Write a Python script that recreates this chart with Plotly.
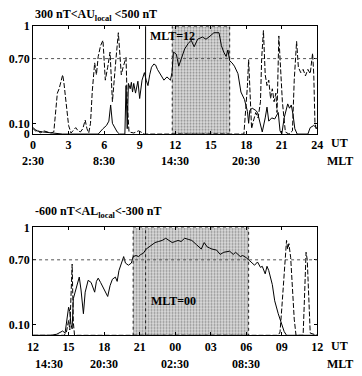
import plotly.graph_objects as go

# ---------------- data ----------------
# top panel: 300 nT < AU_local < 500 nT   (UT hours 0..24)
top_solid_ut = [0.0,0.3,0.8,1.5,2.5,4.0,5.5,5.9,6.2,6.4,6.55,6.7,6.9,7.1,7.3,7.75,7.85,7.95,8.05,8.2,8.3,8.4,8.5,8.65,8.85,9.0,9.2,9.4,9.55,9.7,9.85,10.0,10.2,10.35,10.5,10.8,11.05,11.3,11.6,11.73,11.85,12.0,12.1,12.3,12.5,12.8,13.1,13.35,13.6,13.9,14.3,14.6,14.85,15.27,15.7,15.9,16.1,16.3,16.45,16.6,16.8,17.0,17.3,17.55,17.85,18.1,18.2,18.3,18.5,18.8,18.95,19.1,19.35,19.6,19.75,19.9,20.15,20.4,20.7,20.85,21.0,21.2,21.5,21.65,21.8,21.95,22.1,22.3,23.2,23.4,23.7,24.0]
top_solid = [0.06,0.03,0.02,0.01,0.0,0.0,0.0,0.05,0.08,0.12,0.27,0.1,0.06,0.02,0.0,0.0,0.45,0.05,0.47,0.42,0.48,0.39,0.47,0.38,0.49,0.33,0.5,0.57,0.5,0.45,0.55,0.62,0.65,0.64,0.6,0.55,0.5,0.53,0.5,0.57,0.76,0.75,0.74,0.63,0.7,0.79,0.84,0.87,0.81,0.88,0.9,0.88,0.9,0.94,0.94,0.82,0.76,0.72,0.78,0.68,0.66,0.63,0.56,0.39,0.32,0.21,0.1,0.22,0.24,0.22,0.2,0.12,0.02,0.15,0.25,0.12,0.15,0.14,0.2,0.03,0.0,0.15,0.28,0.24,0.27,0.18,0.05,0.0,0.0,0.06,0.08,0.05]

top_dashed_ut = [0.0,0.2,0.4,0.6,0.9,1.2,1.5,1.75,1.9,2.05,2.2,2.35,2.5,2.6,2.8,3.0,3.2,3.4,3.6,3.8,4.0,4.2,4.4,4.55,4.7,4.85,5.0,5.2,5.35,5.5,5.7,5.9,6.1,6.3,6.5,6.7,6.85,7.0,7.2,7.35,7.45,7.6,7.85,7.95,8.1,8.5,8.9,9.1,9.4,17.8,17.95,18.1,18.2,18.3,18.45,18.6,18.8,19.0,19.2,19.3,19.45,19.6,19.75,19.9,20.05,20.2,20.35,20.5,20.6,20.75,20.9,21.05,21.3,21.6,21.9,22.05,22.25,22.4,22.6,22.8,23.0,23.2,23.4,23.6,23.7,23.8,23.9,24.0]
top_dashed = [0.05,0.03,0.04,0.01,0.03,0.02,0.01,0.02,0.2,0.38,0.42,0.48,0.55,0.48,0.25,0.08,0.01,0.04,0.06,0.03,0.02,0.05,0.13,0.05,0.01,0.1,0.4,0.66,0.55,0.72,0.82,0.87,0.5,0.62,0.76,0.3,0.55,0.7,0.94,0.75,0.55,0.62,0.71,0.3,0.02,0.01,0.03,0.02,0.0,0.0,0.2,0.45,0.69,0.4,0.05,0.12,0.2,0.15,0.3,0.7,0.96,0.55,0.45,0.5,0.33,0.42,0.3,0.38,0.2,0.91,0.6,0.3,0.02,0.0,0.03,0.5,0.86,0.62,0.57,0.6,0.54,0.6,0.56,0.75,0.55,0.1,0.05,0.08]

# bottom panel: -600 nT < AL_local < -300 nT   (UT hours 12..36, i.e. 12 UT to 12 UT next day)
bot_solid_ut = [12,13.5,14.0,14.5,14.7,14.9,15.0,15.1,15.2,15.3,15.4,15.55,15.7,15.9,16.05,16.25,16.4,16.65,16.9,17.0,17.2,17.35,17.5,17.7,18.0,18.3,18.5,18.7,18.95,19.1,19.25,19.45,19.65,19.8,20.05,20.3,20.45,20.7,20.9,21.1,21.3,21.55,21.8,22.1,22.3,22.6,22.9,23.2,23.5,23.75,24.0,24.25,24.5,24.8,25.1,25.4,25.8,26.2,26.45,26.7,26.9,27.1,27.5,27.8,28.1,28.5,28.6,28.9,29.1,29.5,29.7,30.0,30.2,30.4,30.7,30.95,31.2,31.35,31.6,31.75,31.9,32.2,32.4,32.7,33.0,33.2,33.4,36]
bot_solid = [0.0,0.0,0.01,0.04,0.02,0.2,0.26,0.22,0.1,0.06,0.34,0.4,0.46,0.54,0.42,0.2,0.4,0.51,0.49,0.46,0.4,0.5,0.53,0.49,0.42,0.36,0.46,0.52,0.54,0.5,0.6,0.67,0.73,0.67,0.65,0.67,0.73,0.74,0.73,0.75,0.76,0.8,0.82,0.85,0.86,0.87,0.88,0.9,0.88,0.86,0.87,0.88,0.87,0.9,0.89,0.88,0.84,0.8,0.86,0.82,0.81,0.8,0.79,0.75,0.77,0.78,0.78,0.75,0.77,0.73,0.74,0.72,0.7,0.68,0.65,0.68,0.63,0.64,0.57,0.64,0.6,0.47,0.32,0.2,0.11,0.035,0.0,0.0]

bot_dashed_ut = [12,14.6,14.8,15.0,15.1,15.2,15.3,15.4,15.5,32.7,32.85,33.0,33.2,33.4,33.5,33.6,33.75,33.9,34.05,34.2,34.8,34.9,35.05,35.15,35.3,35.4,36]
bot_dashed = [0.0,0.0,0.02,0.14,0.05,0.3,0.66,0.12,0.0,0.0,0.03,0.25,0.6,0.88,0.8,0.85,0.72,0.45,0.15,0.0,0.0,0.3,0.77,0.7,0.2,0.02,0.0]

# shaded intervals (UT) and MLT markers (UT)
top_shade = [11.75, 16.6]
bot_shade = [20.45, 30.2]
top_mlt_line_ut = 9.5
bot_mlt_line_ut = 21.5
ref_level = 0.70

# tick labels
top_xticks = [0, 3, 6, 9, 12, 15, 18, 21, 24]
top_xtext = ["0", "3", "6", "9", "12", "15", "18", "21", "24"]
bot_xticks = [12, 15, 18, 21, 24, 27, 30, 33, 36]
bot_xtext = ["12", "15", "18", "21", "00", "03", "06", "09", "12"]
top_yticks = [0, 0.1, 0.7, 1]
top_ytext = ["0", "0.10", "0.70", "1"]
bot_yticks = [0.1, 0.7, 1]
bot_ytext = ["0.10", "0.70", "1"]
top_mlt_ut = [0, 6, 12, 18]
top_mlt_text = ["2:30", "8:30", "14:30", "20:30"]
bot_mlt_ut = [12, 18, 24, 30]
bot_mlt_text = ["14:30", "20:30", "02:30", "08:30"]

# ---------------- figure ----------------
W, H = 362, 376
FONT = "Liberation Serif"

def px_x(p):
    return p / W

def px_y(p):
    return 1 - p / H

fig = go.Figure()

pattern = dict(shape=".", fgcolor="#3a3a3a", bgcolor="#dcdcdc", size=3, solidity=0.35)

for (s, e), xa, ya in [(top_shade, "x", "y"), (bot_shade, "x2", "y2")]:
    fig.add_trace(go.Scatter(
        x=[s, e, e, s, s], y=[0, 0, 1, 1, 0], xaxis=xa, yaxis=ya,
        mode="lines", fill="toself", fillcolor="#cfcfcf", fillpattern=pattern,
        line=dict(color="#222", width=1, dash="dot"), hoverinfo="skip", showlegend=False))

line_solid = dict(color="black", width=1)
line_dash = dict(color="black", width=1, dash="5px,2px")

fig.add_trace(go.Scatter(x=top_dashed_ut, y=top_dashed, mode="lines", line=line_dash,
                         xaxis="x", yaxis="y", showlegend=False))
fig.add_trace(go.Scatter(x=top_solid_ut, y=top_solid, mode="lines", line=line_solid,
                         xaxis="x", yaxis="y", showlegend=False))
fig.add_trace(go.Scatter(x=bot_dashed_ut, y=bot_dashed, mode="lines", line=line_dash,
                         xaxis="x2", yaxis="y2", showlegend=False))
fig.add_trace(go.Scatter(x=bot_solid_ut, y=bot_solid, mode="lines", line=line_solid,
                         xaxis="x2", yaxis="y2", showlegend=False))

# reference level lines and MLT markers
fig.add_shape(type="line", xref="x domain", yref="y", x0=0, x1=1, y0=ref_level, y1=ref_level,
              line=dict(color="#555", width=1, dash="dot"))
fig.add_shape(type="line", xref="x2 domain", yref="y2", x0=0, x1=1, y0=ref_level, y1=ref_level,
              line=dict(color="#555", width=1, dash="dot"))
fig.add_shape(type="line", xref="x", yref="y domain", x0=top_mlt_line_ut, x1=top_mlt_line_ut, y0=0, y1=1,
              line=dict(color="black", width=1))
fig.add_shape(type="line", xref="x2", yref="y2 domain", x0=bot_mlt_line_ut, x1=bot_mlt_line_ut, y0=0, y1=1,
              line=dict(color="#222", width=1, dash="dot"))

xdom = [px_x(28), px_x(322)]
axis_common = dict(showline=True, linecolor="black", linewidth=1, mirror="ticks",
                   ticks="inside", ticklen=3, tickcolor="black", showgrid=False, zeroline=False,
                   tickfont=dict(family=FONT, size=12, color="black", weight="bold"))

fig.update_layout(
    width=W, height=H, margin=dict(l=0, r=0, t=0, b=0),
    paper_bgcolor="white", plot_bgcolor="white",
    font=dict(family=FONT, size=12, color="black", weight="bold"),
    xaxis=dict(domain=xdom, anchor="y", range=[0, 24], tickmode="array",
               tickvals=top_xticks, ticktext=top_xtext, **axis_common),
    yaxis=dict(domain=[px_y(132), px_y(20)], anchor="x", range=[0, 1], tickmode="array",
               tickvals=top_yticks, ticktext=top_ytext, **axis_common),
    xaxis2=dict(domain=xdom, anchor="y2", range=[12, 36], tickmode="array",
                tickvals=bot_xticks, ticktext=bot_xtext, **axis_common),
    yaxis2=dict(domain=[px_y(341), px_y(229)], anchor="x2", range=[0, 1], tickmode="array",
                tickvals=bot_yticks, ticktext=bot_ytext, **axis_common),
)

ann = []
fnt = dict(family=FONT, size=12, color="black", weight="bold")
ann.append(dict(x=px_x(28), y=px_y(8), xref="paper", yref="paper", xanchor="left", yanchor="middle",
                text="300 nT&lt;AU<sub>local</sub> &lt;500 nT", showarrow=False, font=fnt))
ann.append(dict(x=px_x(28), y=px_y(213), xref="paper", yref="paper", xanchor="left", yanchor="middle",
                text="-600 nT&lt;AL<sub>local</sub>&lt;-300 nT", showarrow=False, font=fnt))
for u, t in zip(top_mlt_ut, top_mlt_text):
    ann.append(dict(x=u, y=px_y(160), xref="x", yref="paper", xanchor="center", yanchor="middle",
                    text=t, showarrow=False, font=fnt))
for i, (u, t) in enumerate(zip(bot_mlt_ut, bot_mlt_text)):
    ann.append(dict(x=u, y=px_y(371), xref="x2", yref="paper", xanchor="left" if i == 0 else "center",
                    yanchor="middle", text=t, showarrow=False, font=fnt))
for yy, t in [(141, "UT"), (160, "MLT"), (352, "UT"), (371, "MLT")]:
    ann.append(dict(x=px_x(345), y=px_y(yy), xref="paper", yref="paper", xanchor="center",
                    yanchor="middle", text=t, showarrow=False, font=fnt))
ann.append(dict(x=top_mlt_line_ut, y=px_y(30), xref="x", yref="paper", xanchor="left", yanchor="middle",
                xshift=2, text="MLT=12", showarrow=False, font=fnt))
ann.append(dict(x=bot_mlt_line_ut, y=px_y(305), xref="x2", yref="paper", xanchor="left", yanchor="middle",
                xshift=3, text="MLT=00", showarrow=False, font=fnt))
fig.update_layout(annotations=ann)

fig.write_html("out.html")
